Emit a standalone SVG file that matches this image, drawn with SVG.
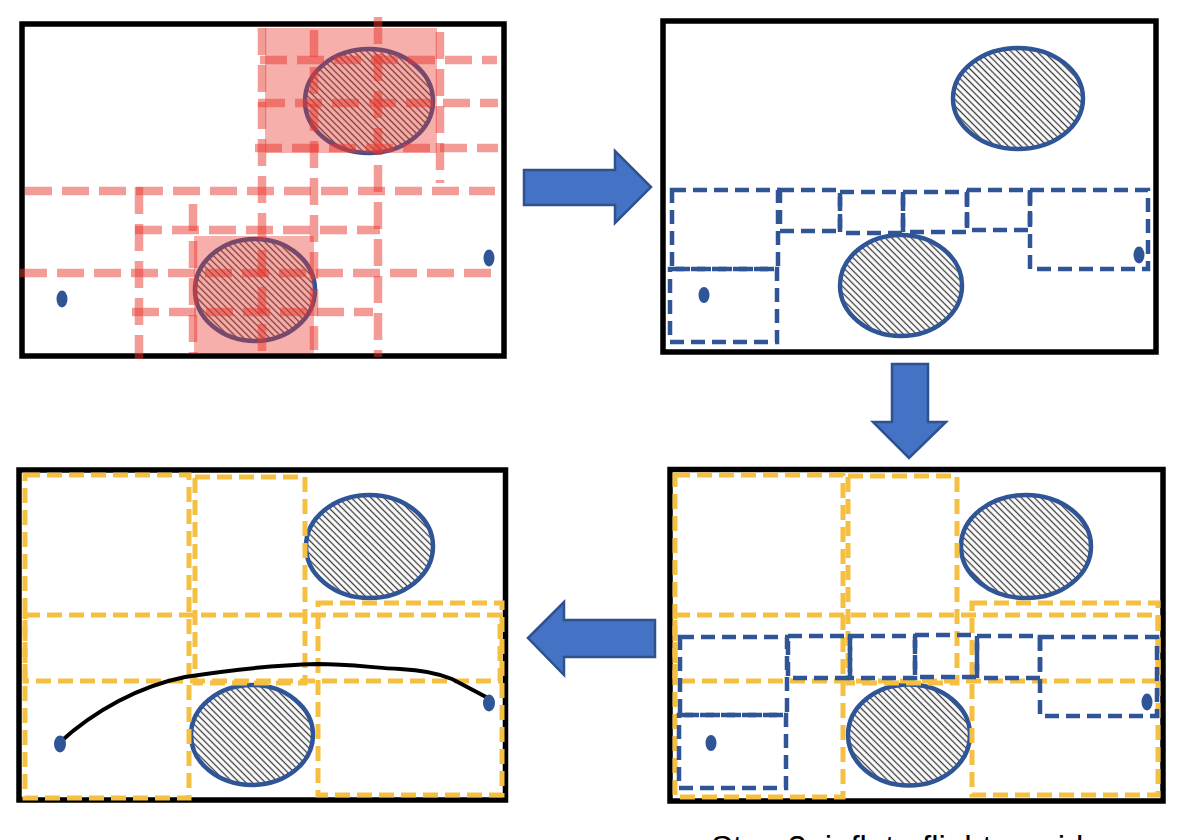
<svg xmlns="http://www.w3.org/2000/svg" width="1184" height="840" viewBox="0 0 1184 840">
<defs>
<pattern id="hatch" width="4.6" height="4.6" patternUnits="userSpaceOnUse" patternTransform="rotate(-45)">
<rect width="4.6" height="4.6" fill="#ffffff"/>
<line x1="2.3" y1="0" x2="2.3" y2="4.6" stroke="#3a3a3a" stroke-width="1.3"/>
</pattern>
<style>
.frame{fill:#ffffff;stroke:#000000;stroke-width:5.5}
.obs{fill:url(#hatch);stroke:#2f5597;stroke-width:4.5}
.dot{fill:#2f5597}
.red{stroke:#e8382d;stroke-opacity:0.5;stroke-width:8.5;stroke-dasharray:27 10;fill:none}
.redbox{fill:#e8382d;fill-opacity:0.4}
.blue{fill:none;stroke:#2f5597;stroke-width:4.5;stroke-dasharray:14 7}
.yel{fill:none;stroke:#f5bf42;stroke-width:5;stroke-dasharray:15 7}
.arrow{fill:#4472c4;stroke:#2f528f;stroke-width:2.5}
.cap{font-family:"Liberation Sans",Arial,sans-serif;font-size:33px;fill:#000000}
</style>
</defs>
<rect width="1184" height="840" fill="#ffffff"/>

<g id="panel1">
<rect class="frame" x="22" y="24" width="482" height="332"/>
<ellipse class="obs" cx="369" cy="101" rx="64" ry="52"/>
<ellipse class="obs" cx="255" cy="290" rx="60" ry="51"/>
<ellipse class="dot" cx="62" cy="299" rx="5.5" ry="8.5"/>
<ellipse class="dot" cx="489" cy="258" rx="5.5" ry="8.5"/>
<rect class="redbox" x="265" y="28" width="172" height="125"/>
<rect class="redbox" x="194" y="236" width="120" height="117"/>
<line class="red" x1="260" y1="60" x2="497" y2="60"/>
<line class="red" x1="258" y1="103" x2="498" y2="103"/>
<line class="red" x1="255" y1="148" x2="498" y2="148"/>
<line class="red" x1="25" y1="191" x2="495" y2="191"/>
<line class="red" x1="135" y1="230" x2="380" y2="230"/>
<line class="red" x1="20" y1="273" x2="498" y2="273"/>
<line class="red" x1="132" y1="312" x2="373" y2="312"/>
<line class="red" x1="139" y1="187" x2="139" y2="359"/>
<line class="red" x1="193" y1="204" x2="193" y2="353"/>
<line class="red" x1="262" y1="28" x2="262" y2="355"/>
<line class="red" x1="314" y1="30" x2="314" y2="350"/>
<line class="red" x1="378" y1="17" x2="378" y2="357"/>
<line class="red" x1="440" y1="32" x2="440" y2="183"/>
</g>

<g id="panel2">
<rect class="frame" x="663" y="21" width="493" height="331"/>
<ellipse class="obs" cx="1018" cy="98.5" rx="65" ry="50.5"/>
<ellipse class="obs" cx="901" cy="285.5" rx="61" ry="50.5"/>
<ellipse class="dot" cx="704" cy="295" rx="5.5" ry="8"/>
<ellipse class="dot" cx="1139" cy="255" rx="5.5" ry="8.5"/>
<rect class="blue" x="672" y="190" width="106" height="79"/>
<rect class="blue" x="670" y="269" width="107" height="73"/>
<rect class="blue" x="780" y="190" width="60" height="41"/>
<rect class="blue" x="840" y="192" width="63" height="41"/>
<rect class="blue" x="903" y="192" width="64" height="40"/>
<rect class="blue" x="967" y="190" width="63" height="40"/>
<rect class="blue" x="1030" y="190" width="118" height="79"/>
</g>

<g id="panel3">
<rect class="frame" x="670" y="469.5" width="493" height="331.5"/>
<ellipse class="obs" cx="1026" cy="546.5" rx="65" ry="51.5"/>
<ellipse class="obs" cx="909" cy="735" rx="61" ry="50.5"/>
<ellipse class="dot" cx="711" cy="743" rx="5.5" ry="8"/>
<ellipse class="dot" cx="1147" cy="702" rx="5.5" ry="8.5"/>
<rect class="yel" x="675" y="475" width="168" height="322"/>
<rect class="yel" x="848" y="476" width="109" height="207"/>
<rect class="yel" x="675" y="615" width="483" height="66"/>
<rect class="yel" x="972" y="603" width="186" height="192"/>
<rect class="blue" x="680" y="637" width="107" height="78"/>
<rect class="blue" x="679" y="715" width="107" height="73"/>
<rect class="blue" x="788" y="636" width="62" height="42"/>
<rect class="blue" x="850" y="636" width="65" height="42"/>
<rect class="blue" x="915" y="635" width="62" height="42"/>
<rect class="blue" x="977" y="636" width="63" height="42"/>
<rect class="blue" x="1040" y="637" width="117" height="79"/>
</g>

<g id="panel4">
<rect class="frame" x="19" y="470" width="486.5" height="330"/>
<ellipse class="obs" cx="369.5" cy="546.5" rx="63.5" ry="51.5"/>
<ellipse class="obs" cx="252" cy="735" rx="61" ry="50"/>
<rect class="yel" x="25" y="475" width="164" height="323"/>
<rect class="yel" x="195" y="477" width="110" height="206"/>
<rect class="yel" x="25" y="615" width="475" height="66"/>
<rect class="yel" x="318" y="603" width="184" height="192"/>
<path d="M59,743 C95,710 140,686 185,677 C230,670 280,665 317,664 C350,664 375,668 400,669 C420,670 440,674 452,679 L488,698" fill="none" stroke="#000000" stroke-width="4"/>
<ellipse class="dot" cx="60" cy="744" rx="6" ry="8.5"/>
<ellipse class="dot" cx="489" cy="703" rx="6" ry="8.5"/>
</g>

<g id="connectors">
<polygon class="arrow" points="524,170 615,170 615,151 651,187 615,223 615,205 524,205"/>
<polygon class="arrow" points="892,364 928,364 928,422 946,422 909,458 873,422 892,422"/>
<polygon class="arrow" points="528,638 564,602 564,620 655,620 655,657 564,657 564,675"/>
</g>

<g id="caption">
<text class="cap" x="711" y="859">Step 3: inflate flight corridors</text>
</g>
</svg>
